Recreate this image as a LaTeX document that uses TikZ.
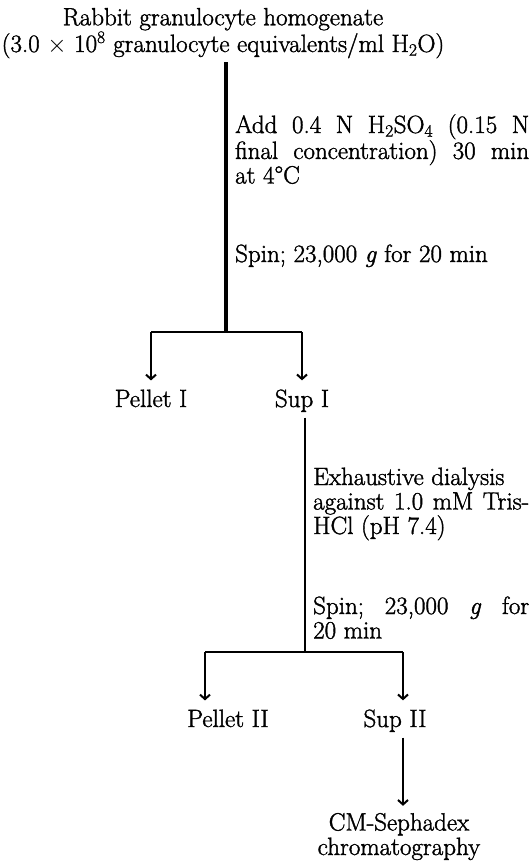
\documentclass[tikz,border=0pt]{standalone}
\usepackage{fontspec}
\setmainfont{Latin Modern Roman}[FakeBold=1.5]
\usepackage{tikz}
\usetikzlibrary{arrows.meta}

\begin{document}
\begin{tikzpicture}[x=1pt, y=-1pt, >={Straight Barb[length=4.5pt,width=10pt]},
  every node/.style={font=\fontsize{25}{24.5}\selectfont, inner sep=0pt},
  stepnote/.style={anchor=base west, align=justify},
  prodnode/.style={anchor=base, align=center},
  mainline/.style={line width=3.2pt},
  flowline/.style={line width=2pt}]
  \useasboundingbox (0,0) rectangle (532,865);
  % starting material
  \node[prodnode] (homog) at (223,52) {Rabbit granulocyte homogenate\\(3.0 $\times$ 10\textsuperscript{8} granulocyte equivalents/ml H\textsubscript{2}O)};
  \node[stepnote, text width=294pt] (acid) at (235,133) {Add~0.4~N~H\textsubscript{2}SO\textsubscript{4}~(0.15~N\linebreak final~concentration)~30~min\linebreak at 4\textdegree C};
  \node[stepnote, text width=294pt] (spin1) at (235,262) {Spin; 23,000 \textit{g} for 20 min};
  \coordinate (fork1) at (226,332);
  \node[prodnode] (pel1) at (151,407) {Pellet I};
  \node[prodnode] (sup1) at (302,407) {Sup I};
  \draw[mainline, shorten <=4pt] (homog.south -| fork1) -- (fork1);
  \draw[flowline] (pel1 |- fork1) -- (sup1 |- fork1);
  \draw[flowline, ->, shorten >=9pt] (pel1 |- fork1) -- (pel1.north);
  \draw[flowline, ->, shorten >=9pt] (sup1 |- fork1) -- (sup1.north);
  % dialysis of Sup I
  \node[stepnote, text width=216pt] (dialysis) at (313,485) {Exhaustive dialysis\\against~1.0~mM~Tris-\linebreak HCl (pH 7.4)};
  \node[stepnote, text width=216pt] (spin2) at (313,614) {Spin;~23,000~\textit{g}~for\linebreak 20 min};
  \coordinate (fork2) at (305,652);
  \coordinate (left2) at (205,652);
  \coordinate (right2) at (403,652);
  \node[prodnode] (pel2) at (228,727) {Pellet II};
  \node[prodnode] (sup2) at (395,727) {Sup II};
  \draw[flowline, shorten <=5.5pt] (fork2 |- sup1.south) -- (fork2);
  \draw[flowline] (left2) -- (right2);
  \draw[flowline, ->, shorten >=9pt] (left2) -- (left2 |- pel2.north);
  \draw[flowline, ->, shorten >=9pt] (right2) -- (right2 |- sup2.north);
  % final step
  \node[prodnode] (cms) at (399,855) {CM-Sephadex\\chromatography};
  \draw[flowline, ->, shorten <=5.5pt, shorten >=7pt] (right2 |- sup2.south) -- (right2 |- cms.north);
\end{tikzpicture}
\end{document}
